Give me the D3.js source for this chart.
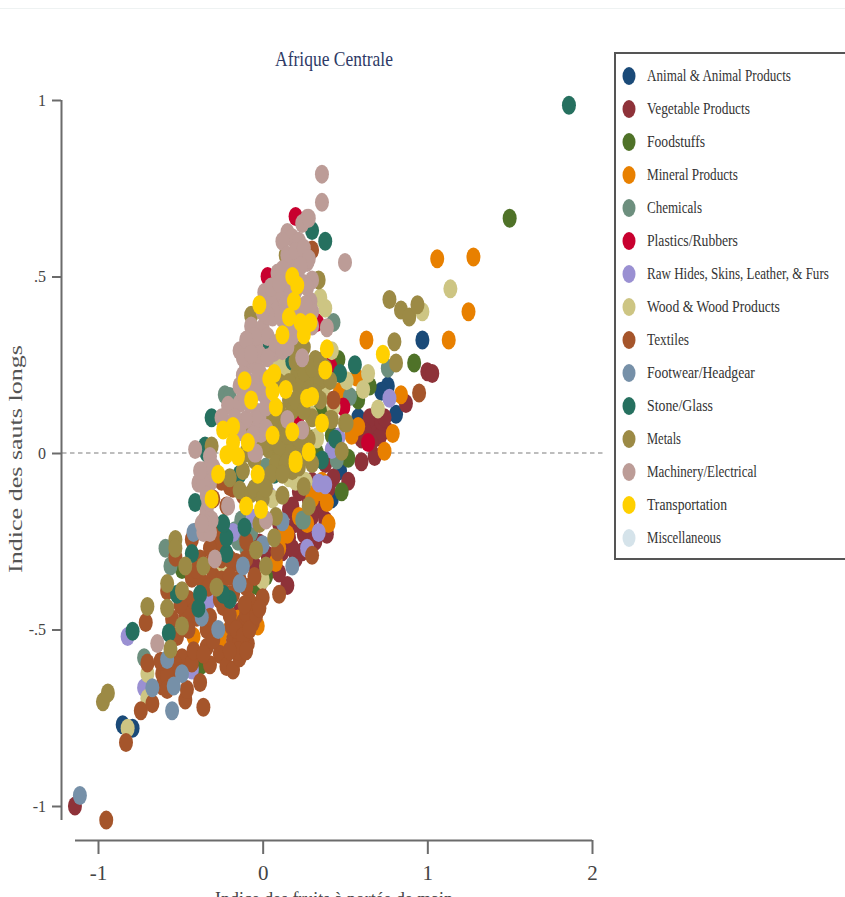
<!DOCTYPE html>
<html><head><meta charset="utf-8">
<script src="https://cdn.jsdelivr.net/npm/d3@7"></script>
<style>html,body{margin:0;padding:0;background:#fff;overflow:hidden}svg{display:block}text{font-family:"Liberation Serif",serif}</style>
</head><body><div id="chart"></div>
<script>
const categories=["Animal & Animal Products","Vegetable Products","Foodstuffs","Mineral Products","Chemicals","Plastics/Rubbers","Raw Hides, Skins, Leather, & Furs","Wood & Wood Products","Textiles","Footwear/Headgear","Stone/Glass","Metals","Machinery/Electrical","Transportation","Miscellaneous"];
const colors=["#1a4a78","#8e3239","#4f7228","#e88000","#6d8f7e","#c8002f","#9a90d2","#cdc583","#a5552b","#7690a8","#26705f","#9c8a45","#bc9c97","#ffd000","#d5e3ea"];
const xTicks=[-1,0,1,2];
const xTickLabels=["-1","0","1","2"];
const yTicks=[-1,-.5,0,.5,1];
const yTickLabels=["-1","-.5","0",".5","1"];
const animal=[[.97,.32],[.76,.19],[.72,.175],[.81,.11],[.58,.10],[.47,-.05],[.42,-.13],[-.85,-.77],[-.79,-.78],[-.07,-.27],[-.41,-.615],[.19,.02]];
const vegetable=[[1.0,.23],[1.03,.225],[.87,.14],[.69,.11],[.69,.065],[.75,.065],[.71,.045],[.68,-.01],[.6,-.025],[.52,-.08],[.16,-.16],[.26,-.23],[.39,-.23],[.38,-.03],[.35,-.16],[.22,-.11],[.24,-.28],[.25,-.23],[.16,-.24],[.15,-.375],[-.02,-.255],[.18,-.15],[-.06,-.435],[-.14,-.45],[-1.14,-1.0],[-.28,-.4],[.1,-.2],[.12,-.28],[.2,-.2],[.2,-.3],[.28,-.22],[.3,-.18],[.32,-.25],[.05,-.33],[.1,-.34],[.18,-.27],[.28,-.13],[.4,-.1],[.43,-.07],[.6,.04],[.65,.1],[.72,.09],[.66,.03],[.62,.06],[.74,.1],[.38,-.19],[.3,-.08],[.03,-.29],[-.05,-.32],[-.02,-.38]];
const foodstuffs=[[1.5,.665],[.92,.255],[.46,.265],[.65,.19],[.58,.15],[.35,.12],[.52,-.015],[.48,-.11],[.33,0],[-.37,-.6],[-.04,-.375],[-.49,-.33],[.02,-.35],[.42,.05],[.3,.04]];
const mineral=[[1.06,.55],[1.28,.555],[1.25,.4],[1.13,.32],[.63,.32],[.84,.165],[.79,.055],[.74,.005],[.58,.075],[.54,.05],[.57,.215],[.47,.175],[.39,-.14],[.4,-.2],[.32,-.105],[.15,-.23],[.13,-.23],[.08,-.31],[-.03,-.49],[-.42,-.52],[-.26,-.53],[-.28,-.33],[.22,-.18],[.27,-.2],[.3,-.13],[.35,-.11],[.1,-.27],[.36,-.08],[-.2,-.5],[-.15,-.47]];
const chemicals=[[.76,.24],[.53,.16],[.43,.37],[.24,-.19],[.45,-.02],[-.23,.165],[-.2,.16],[-.59,-.27],[-.56,-.32],[-.72,-.58],[-.13,-.19],[-.07,-.225],[.25,-.19],[.02,-.04],[-.15,-.25],[-.1,-.27],[-.17,-.22]];
const plastics=[[.2,.67],[.03,.5],[.49,.13],[.3,.23],[.64,.03],[.32,.225],[.41,.245],[-.27,-.225],[.33,.37],[.04,.315],[.21,.085]];
const rawHides=[[.77,.155],[.34,-.085],[.38,-.09],[.34,-.225],[.46,.045],[.42,.01],[-.82,-.52],[-.72,-.665],[.27,-.27],[-.06,-.185],[.04,-.12],[-.33,-.42],[-.43,-.615],[-.18,-.225]];
const wood=[[1.14,.465],[.97,.4],[.7,.125],[.64,.225],[.61,.18],[.38,.41],[.35,.44],[.42,.29],[.51,.205],[.33,.045],[.37,.17],[.16,-.07],[.2,-.08],[.29,.11],[.43,.13],[.13,.255],[.09,.265],[.33,.04],[-.82,-.78],[-.7,-.625],[-.7,-.695],[0,-.36],[.06,-.13],[-.24,-.32],[.12,.23],[.15,.24],[.1,.25],[.22,-.07],[.26,-.08]];
const textiles=[[-.95,-1.04],[-.83,-.82],[-.74,-.73],[-.67,-.71],[-.36,-.72],[-.47,-.7],[-.46,-.67],[-.38,-.65],[-.7,-.595],[-.71,-.48],[-.61,-.625],[-.61,-.66],[-.55,-.615],[-.49,-.58],[-.43,-.595],[-.42,-.56],[-.34,-.55],[-.34,-.5],[-.55,-.47],[-.53,-.295],[-.58,-.39],[-.43,-.355],[-.43,-.245],[-.36,-.37],[-.26,-.57],[-.22,-.605],[-.18,-.615],[-.14,-.58],[-.18,-.53],[-.14,-.53],[-.09,-.54],[-.19,-.49],[-.12,-.48],[-.06,-.48],[-.04,-.435],[0,-.41],[-.1,-.455],[-.3,-.35],[-.26,-.415],[-.45,-.415],[-.4,-.465],[-.32,-.465],[-.14,-.36],[-.1,-.38],[.1,-.4],[.3,-.29],[.09,-.28],[-.39,-.22],[-.28,-.265],[-.2,-.095],[-.35,-.19],[-.16,-.31],[-.24,-.435],[.95,.17],[.43,.15],[.3,.575],[-.2,-.46],[-.16,-.5],[-.12,-.52],[-.08,-.5],[-.15,-.56],[-.1,-.56],[-.2,-.56],[-.04,-.46],[-.08,-.42],[-.02,-.44],[-.11,-.43],[-.3,-.3],[-.25,-.3],[-.2,-.3],[-.32,-.27],[-.38,-.3],[-.4,-.33],[-.33,-.38],[-.25,-.36],[-.2,-.35],[-.22,-.4],[-.18,-.4],[-.45,-.5],[-.42,-.45],[-.47,-.46],[-.52,-.52],[-.5,-.43],[-.3,-.53],[-.32,-.6],[-.36,-.57],[-.53,-.6],[-.58,-.63],[-.62,-.59],[-.58,-.67],[-.5,-.62],[-.3,-.13],[-.25,-.08],[-.22,-.15],[-.3,-.2],[-.25,-.22],[-.1,-.25],[-.1,-.3],[-.05,-.35],[-.18,-.1],[-.12,-.12]];
const footwear=[[-1.11,-.97],[-.55,-.73],[-.54,-.66],[-.49,-.625],[-.67,-.665],[-.27,-.5],[-.12,-.32],[-.14,-.37],[-.37,-.465],[-.42,-.225],[.18,-.32],[.12,-.195],[0,-.26],[-.58,-.585]];
const stone=[[1.86,.985],[.38,.6],[.3,.63],[.56,.25],[.47,.225],[.44,.04],[-.79,-.505],[-.41,-.14],[-.43,-.285],[-.52,-.4],[-.57,-.51],[-.38,-.4],[-.39,-.44],[-.2,-.415],[-.24,-.4],[-.22,-.285],[-.22,-.24],[-.24,-.2],[-.11,-.21],[-.14,-.06],[-.02,-.1],[.07,-.06],[-.31,.1],[-.35,.02],[-.14,.085],[.22,.29],[.01,.285],[.18,.26],[-.34,0],[.22,-.02],[.36,-.02]];
const metals=[[.77,.435],[.84,.405],[.89,.385],[.94,.42],[.8,.315],[.81,.255],[.34,.49],[.14,.56],[-.07,.39],[-.09,.32],[-.31,.02],[.5,.085],[.48,.005],[.25,-.095],[.42,.095],[.28,-.15],[.12,-.12],[.3,-.03],[.32,.265],[.21,.225],[.29,.2],[.35,.205],[.41,.205],[.22,.19],[.16,.15],[.15,.095],[.12,.03],[.04,.01],[.18,.017],[.24,.017],[.41,.095],[.51,.085],[-.08,.075],[.21,.29],[-.53,-.245],[-.53,-.27],[-.47,-.32],[-.36,-.32],[-.58,-.37],[-.49,-.39],[-.28,-.38],[-.7,-.435],[-.58,-.44],[-.49,-.49],[-.56,-.555],[-.97,-.705],[-.94,-.68],[-.04,-.275],[.02,-.32],[.07,-.24],[.08,-.18],[-.14,-.105],[-.07,-.115],[.1,-.01],[.16,0],[.25,.06],[.3,.1],[.05,.05],[.08,.08],[.1,.12],[.13,.06],[.18,.12],[.2,.15],[.25,.12],[.28,.18],[.32,.17],[.35,.15],[.25,.23],[.3,.24],[.35,.26],[.38,.24],[.1,.02],[.08,-.03],[.05,-.06],[.14,-.03],[.18,-.05],[.22,-.04],[.26,-.01],[.28,.04],[.22,.04],[.15,.05],[.03,.03],[0,.02],[.12,-.06],[.16,.2],[.2,.26],[.25,.3],[-.05,-.02],[-.1,0],[.01,-.09],[.06,.1],[.1,.2],[-.02,-.2],[-.05,-.1],[0,-.13],[.02,-.1],[-.12,-.05],[-.2,-.07]];
const machinery=[[.36,.79],[.36,.71],[.5,.54],[.27,.665],[.24,.65],[.28,.665],[.15,.625],[.18,.61],[.22,.6],[.18,.545],[.27,.54],[.3,.49],[.09,.51],[.21,.51],[.01,.455],[.06,.43],[.12,.45],[.29,.43],[.06,.385],[-.07,.36],[0,.355],[-.14,.29],[-.04,.305],[.07,.285],[.18,.33],[.39,.355],[.24,.27],[-.1,.245],[-.04,.245],[-.14,.19],[0,.17],[-.21,.135],[-.14,.14],[-.25,.1],[-.1,.095],[-.03,.115],[-.01,.055],[.15,.095],[.24,.065],[-.41,.01],[-.32,-.01],[-.04,0],[-.36,-.05],[-.39,-.085],[-.32,-.085],[-.34,-.165],[-.31,-.19],[-.36,-.225],[-.32,-.225],[-.21,-.15],[-.29,-.3],[.02,-.19],[-.64,-.54],[-.05,0],[.12,.38],[.2,.42],[-.02,.23],[.03,.33],[.12,.6],[.15,.56],[.2,.57],[.25,.58],[.12,.52],[.15,.48],[.2,.46],[.25,.48],[.27,.47],[.05,.47],[.1,.48],[.08,.4],[.14,.42],[.17,.36],[.22,.38],[.28,.38],[.03,.39],[0,.4],[-.05,.33],[-.02,.28],[.03,.27],[.08,.31],[.12,.29],[.15,.3],[-.1,.32],[-.12,.27],[-.07,.28],[-.12,.22],[-.08,.2],[-.04,.2],[.02,.21],[-.11,.16],[-.08,.14],[-.05,.17],[-.03,.07],[-.17,.1],[-.19,.07],[-.14,.06],[-.06,.05],[-.08,.03],[-.02,.1],[.02,.13],[.02,.07],[.3,.4],[.3,.36],[.26,.42],[-.36,-.09],[-.34,-.12],[-.38,-.05],[-.3,-.04],[-.35,-.2],[-.33,-.14],[-.37,-.2],[.28,.55],[.23,.53]];
const transportation=[[.18,.5],[.21,.475],[.19,.43],[-.02,.42],[.16,.385],[.23,.37],[.29,.37],[.25,.335],[.12,.335],[.39,.295],[.38,.235],[.07,.225],[.04,.21],[-.11,.205],[.06,.175],[.14,.18],[-.07,.15],[.08,.13],[.27,.155],[.3,.16],[.36,.085],[-.24,.065],[-.18,.075],[-.18,.03],[-.09,.03],[.06,.05],[.18,.06],[-.22,-.005],[-.15,-.01],[.28,.003],[.2,-.02],[.73,.28],[-.27,-.06],[-.31,-.13],[-.1,-.15],[-.01,-.16],[-.03,-.06],[.2,-.03]];
const miscellaneous=[];
const series=[animal,vegetable,foodstuffs,mineral,chemicals,plastics,rawHides,wood,textiles,footwear,stone,metals,machinery,transportation,miscellaneous];

const svg=d3.select("#chart").append("svg").attr("width",845).attr("height",897);
const x=d3.scaleLinear().domain([-1,2]).range([98,592]);
const y=d3.scaleLinear().domain([-1,1]).range([806,100]);
const axisColor="#6b6b6b", textColor="#444";

// Squeeze a text horizontally to a target width, as in the stretched reference image.
function squeeze(sel,widthOf){
  sel.each(function(d,i){
    const n=this.getComputedTextLength();
    const t=d3.select(this);
    const base=t.attr("data-base");
    t.attr("transform",`${base} scale(${widthOf(d,i)/n},1)`);
  });
}

svg.append("line").attr("x1",0).attr("x2",845).attr("y1",8.5).attr("y2",8.5).attr("stroke","#eef2f2");

svg.append("text").attr("data-base","translate(334,66)").attr("text-anchor","middle").attr("font-size",22)
  .attr("fill","#2e3a66").text("Afrique Centrale").call(squeeze,()=>118);

svg.append("line").attr("x1",62).attr("x2",605).attr("y1",y(0)).attr("y2",y(0))
  .attr("stroke","#a8a8a8").attr("stroke-width",1.6).attr("stroke-dasharray","4.5 3.5");

const yG=svg.append("g").attr("transform","translate(61,0)").call(d3.axisLeft(y).tickValues(yTicks).tickSize(9).tickPadding(6).tickFormat((d,i)=>yTickLabels[i]));
yG.select(".domain").attr("d","M0.5,100V820");
const xG=svg.append("g").attr("transform","translate(0,840)").call(d3.axisBottom(x).tickValues(xTicks).tickSize(14).tickPadding(11).tickFormat((d,i)=>xTickLabels[i]));
xG.select(".domain").attr("d","M75,0.5H592");
[yG,xG].forEach(g=>{
  g.selectAll(".domain").attr("stroke",axisColor).attr("stroke-width",2);
  g.selectAll(".tick line").attr("stroke",axisColor).attr("stroke-width",2);
  g.selectAll("text").attr("fill",textColor).attr("font-family",'"Liberation Serif",serif');
});
yG.selectAll("text").attr("font-size",16);
xG.selectAll("text").attr("font-size",21);

svg.append("text").attr("data-base","translate(22,459) rotate(-90)").attr("text-anchor","middle").attr("font-size",19)
  .attr("fill","#555").text("Indice des sauts longs").call(squeeze,()=>228);
svg.append("text").attr("data-base","translate(334,905)").attr("text-anchor","middle").attr("font-size",19)
  .attr("fill","#444").text("Indice des fruits à portée de main").call(squeeze,()=>238);

series.forEach((pts,i)=>{
  svg.append("g").selectAll("ellipse").data(pts).join("ellipse")
    .attr("cx",d=>x(d[0])).attr("cy",d=>y(d[1])).attr("rx",7).attr("ry",9.5).attr("fill",colors[i]);
});

const legendWidths=[144,103,58,91,55,91,182,133,42,108,66,34,110,80,74];
svg.append("rect").attr("x",615).attr("y",53).attr("width",240).attr("height",506)
  .attr("fill","#fff").attr("stroke","#555").attr("stroke-width",2);
const ly=d3.scalePoint().domain(categories).range([76,538]);
const lg=svg.append("g").selectAll("g").data(categories).join("g").attr("transform",d=>`translate(0,${ly(d)})`);
lg.append("ellipse").attr("cx",629).attr("rx",6.5).attr("ry",9).attr("fill",(d,i)=>colors[i]);
lg.append("text").attr("data-base","translate(647,5)").attr("font-size",16).attr("fill","#333").text(d=>d)
  .call(squeeze,(d,i)=>legendWidths[i]);
</script></body></html>
